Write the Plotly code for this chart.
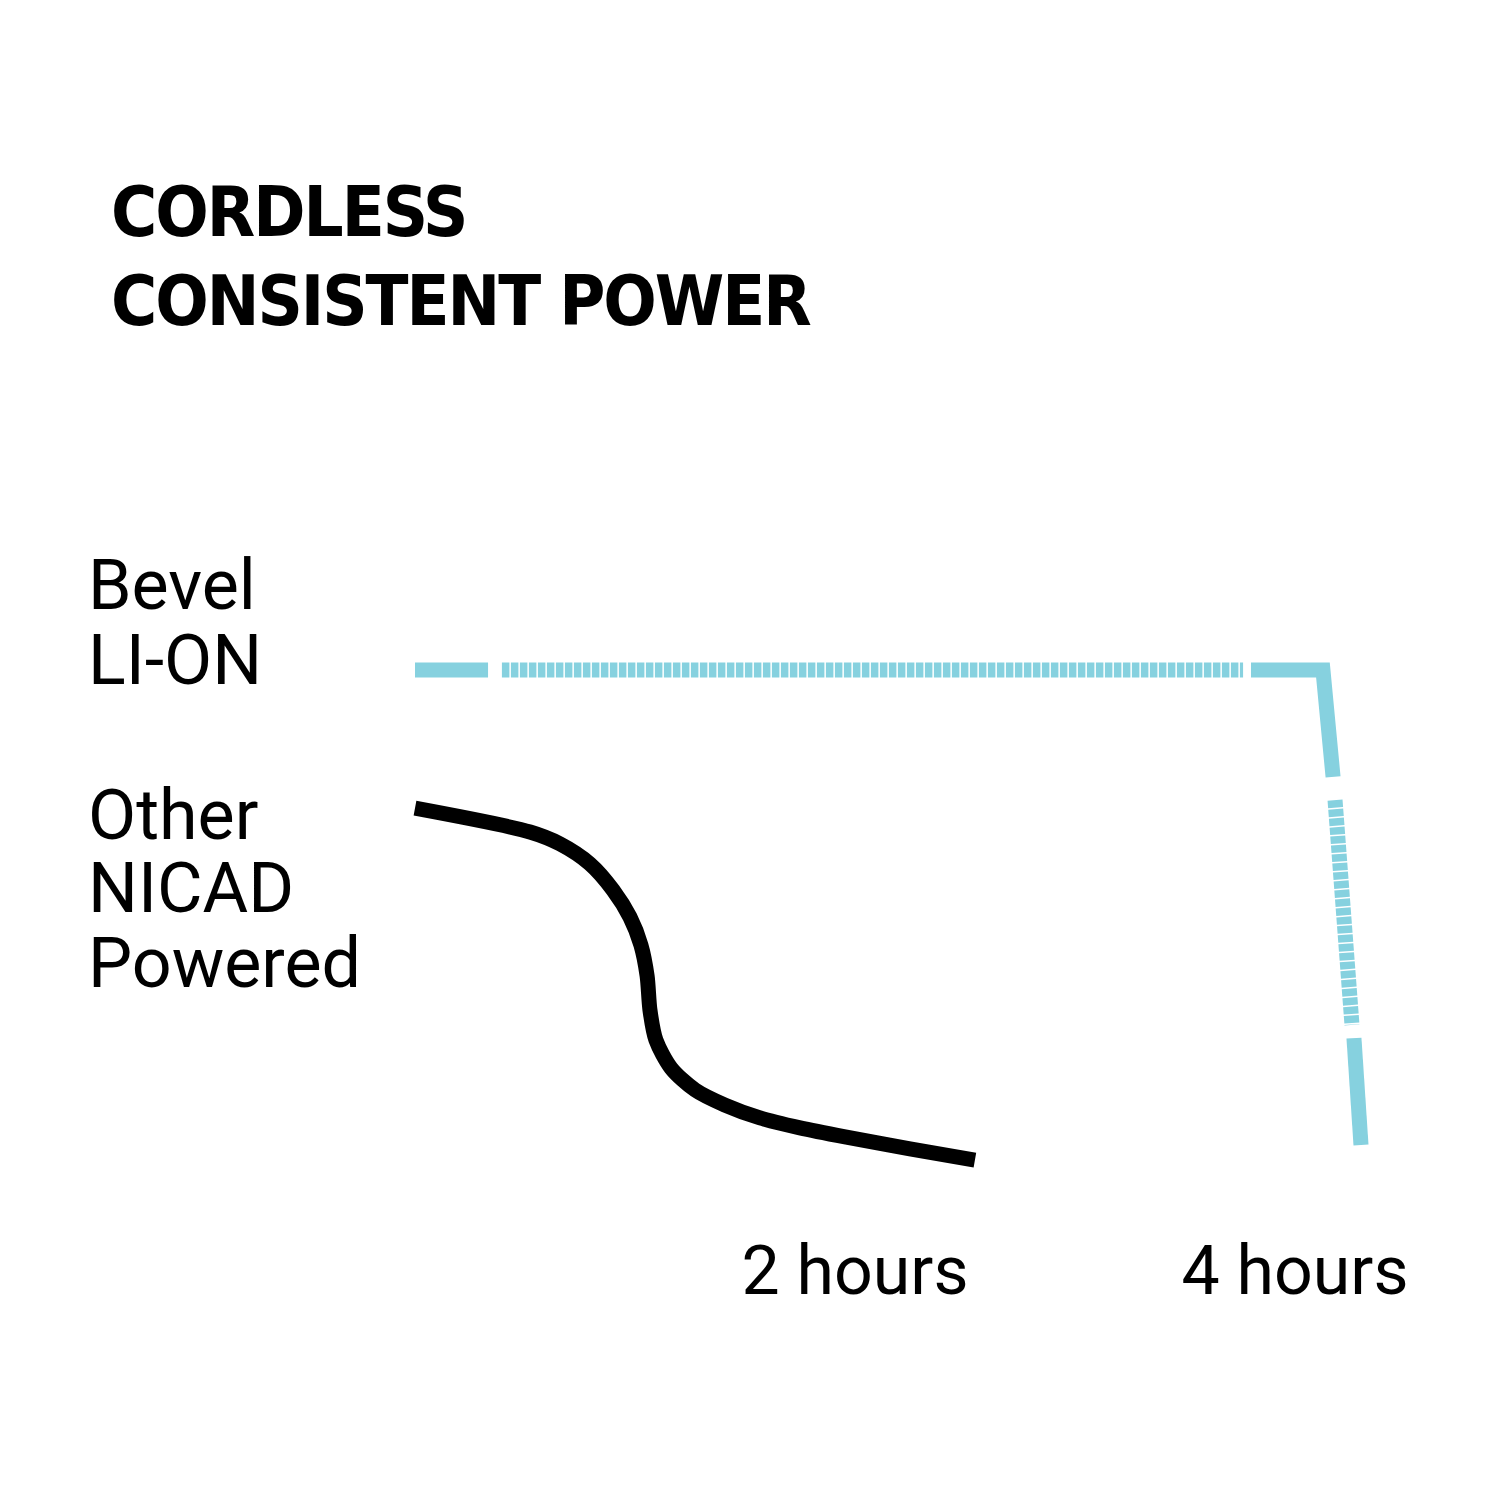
import plotly.graph_objects as go

# Bevel LI-ON: flat power then a sudden drop after ~4 hours
# (points taken in runs: each run is one drawn piece of the line)
li_hours = [0.0, 0.332, 0.395, 3.764, 3.80, 4.127, 4.127, 4.173, 4.182, 4.259, 4.268, 4.30]
li_power = [100, 100, 100, 100, 100, 100, 100, 77.5, 72.6, 25.3, 22.5, 0]
li_pieces = [(0, 2), (2, 4), (4, 8), (8, 10), (10, 12)]
li_dashed = [False, True, False, True, False]

# Other NICAD: fading power over ~2.5 hours
nicad_hours = [0, 0.523, 0.659, 0.795, 0.9, 0.977, 1.027, 1.055, 1.068,
               1.095, 1.164, 1.273, 1.409, 1.568, 1.75, 1.955, 2.25, 2.545]
nicad_power = [70.9, 65.9, 63.4, 59.2, 53.7, 48.0, 42.1, 35.6, 28.4,
               22.1, 16.2, 11.6, 8.4, 5.7, 3.6, 1.7, -0.8, -3.2]

tick_hours = [2, 4]
tick_text = ["2 hours", "4 hours"]

title_lines = ["CORDLESS", "CONSISTENT POWER"]
li_label = ["Bevel", "LI-ON"]
nicad_label = ["Other", "NICAD", "Powered"]

CYAN = "#86D1DF"
LABEL_FONT = "Roboto, Lato, DejaVu Sans, sans-serif"
TITLE_FONT = "DejaVu Sans Condensed, Roboto, sans-serif"

fig = go.Figure()

for (a, b), dashed in zip(li_pieces, li_dashed):
    fig.add_trace(
        go.Scatter(
            x=li_hours[a:b],
            y=li_power[a:b],
            mode="lines",
            line=dict(color=CYAN, width=15, dash="7.5px,1.5px" if dashed else "solid"),
            hoverinfo="skip",
        )
    )

fig.add_trace(
    go.Scatter(
        x=nicad_hours,
        y=nicad_power,
        mode="lines",
        line=dict(color="black", width=15, shape="spline", smoothing=0.8),
        hoverinfo="skip",
    )
)


def px_y(y):
    # paper fraction from a pixel row
    return 1 - y / 1500


# title, two lines
for text, y in zip(title_lines, [204, 293]):
    fig.add_annotation(
        x=101 / 1500, y=px_y(y), xref="paper", yref="paper",
        xanchor="left", yanchor="middle", showarrow=False,
        text='<span style="letter-spacing:-2px">' + text + "</span>",
        font=dict(family=TITLE_FONT, size=70, color="black", weight="bold"),
    )

# series labels on the left
for text, y in zip(li_label + nicad_label, [577, 652, 807, 880, 955]):
    fig.add_annotation(
        x=78 / 1500, y=px_y(y), xref="paper", yref="paper",
        xanchor="left", yanchor="middle", showarrow=False, text=text,
        font=dict(family=LABEL_FONT, size=70, color="black"),
    )

fig.update_layout(
    width=1500,
    height=1500,
    margin=dict(l=0, r=0, t=0, b=0),
    paper_bgcolor="white",
    plot_bgcolor="white",
    showlegend=False,
    xaxis=dict(
        range=[-407 / 220, 1093 / 220],
        anchor="free",
        position=0.1887,
        showgrid=False,
        zeroline=False,
        showline=False,
        ticks="",
        tickmode="array",
        tickvals=tick_hours,
        ticktext=tick_text,
        tickfont=dict(family=LABEL_FONT, size=68, color="black"),
        fixedrange=True,
    ),
    yaxis=dict(
        range=[-363 / 4.75, 1137 / 4.75],
        visible=False,
        fixedrange=True,
    ),
)

fig.write_html("out.html")
